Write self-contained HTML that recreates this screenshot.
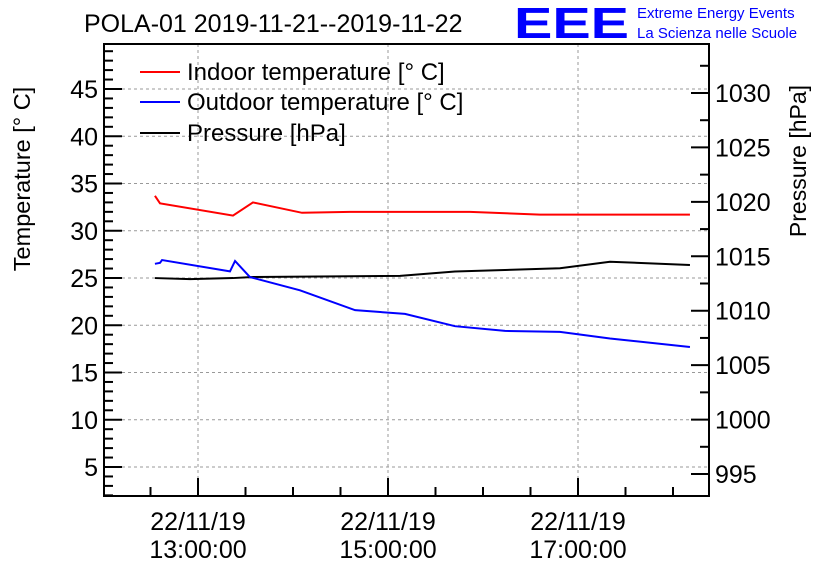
<!DOCTYPE html>
<html><head><meta charset="utf-8"><style>
body{margin:0;background:#fff;}
svg{font-family:"Liberation Sans",sans-serif;display:block}
</style></head><body>
<svg width="836" height="572" viewBox="0 0 836 572">
<text x="84" y="32" font-size="25">POLA-01 2019-11-21--2019-11-22</text>
<text x="514" y="38" font-size="44" fill="#0000ff" font-weight="bold" textLength="115" lengthAdjust="spacingAndGlyphs">EEE</text>
<text x="637" y="18" font-size="15" fill="#0000ff">Extreme Energy Events</text>
<text x="637" y="38" font-size="15" fill="#0000ff">La Scienza nelle Scuole</text>
<g id="grid"></g>
<g id="axes"></g>
<g id="series"></g>
<rect x="104" y="44" width="605" height="452" fill="none" stroke="#000" stroke-width="2"/>
<text transform="translate(30,179) rotate(-90)" font-size="23.5" text-anchor="middle">Temperature [° C]</text>
<text transform="translate(806,161) rotate(-90)" font-size="23" text-anchor="middle">Pressure [hPa]</text>
<g>
<line x1="140" y1="72" x2="180" y2="72" stroke="#f00" stroke-width="2"/>
<text x="187" y="80" font-size="24">Indoor temperature [° C]</text>
<line x1="140" y1="102" x2="180" y2="102" stroke="#00f" stroke-width="2"/>
<text x="187" y="110" font-size="24">Outdoor temperature [° C]</text>
<line x1="140" y1="133" x2="180" y2="133" stroke="#000" stroke-width="2"/>
<text x="187" y="141" font-size="24">Pressure [hPa]</text>
</g>
</svg>
<script>
// minutes after 12:00
const indoorT=[32.8,36,82.1,94.7,125.7,156,231.8,276,370.7];
const indoorV=[33.7,32.9,31.6,33.0,31.9,32.0,32.0,31.7,31.7];
const outdoorT=[32.8,36,37.3,80.2,83.4,92.8,124.4,159.2,190.7,222.3,253.9,288.6,320.2,370.7];
const outdoorV=[26.5,26.6,26.9,25.7,26.8,25.1,23.7,21.6,21.2,19.9,19.4,19.3,18.6,17.7];
const pressT=[32.8,55,82.1,94.7,187.6,222.3,288.6,320.2,370.7];
const pressV=[1013.0,1012.9,1013.0,1013.1,1013.2,1013.6,1013.9,1014.5,1014.2];
const tempTicks=[5,10,15,20,25,30,35,40,45];
const pressTicks=[995,1000,1005,1010,1015,1020,1025,1030];
const timeTicks=[60,180,300];
const timeLabels=["13:00:00","15:00:00","17:00:00"];
const NS="http://www.w3.org/2000/svg";
const L=104,R=709,T=44,B=496;
const xs=m=>198+(m-60)*95/60;
const ys=v=>514.25-v*9.45;
const yp=v=>93+(1030-v)*10.886;
function mk(tag,at,parent){const e=document.createElementNS(NS,tag);for(const k in at)e.setAttribute(k,at[k]);document.getElementById(parent).appendChild(e);return e;}
for(const v of tempTicks){
 const g=mk('line',{x1:L,x2:R,y1:ys(v),y2:ys(v),stroke:'#999','stroke-dasharray':'3,3','stroke-width':1},'grid');
 
 
 const t=mk('text',{x:L-6,y:ys(v)+9,'font-size':25,'text-anchor':'end'},'axes');
 t.textContent=v;
 
 
}
for(let v=2;v<=49;v++){
 const len=v%5===0?18:9;
 const l=mk('line',{x1:L,x2:L+len,y1:ys(v),y2:ys(v),stroke:'#000','stroke-width':2},'axes');
 
 
}
for(const v of pressTicks){
 const t=mk('text',{x:R+6,y:yp(v)+9,'font-size':25},'axes');
 t.textContent=v;
 
 
}
for(let v=992.5;v<=1032.5;v+=2.5){
 const y=yp(v); if(y<T||y>B)continue;
 const len=v%5===0?18:9;
 const l=mk('line',{x1:R-len,x2:R,y1:y,y2:y,stroke:'#000','stroke-width':2},'axes');
 
 
}
timeTicks.forEach((m,i)=>{
 const g=mk('line',{x1:xs(m),x2:xs(m),y1:T,y2:B,stroke:'#999','stroke-dasharray':'3,3','stroke-width':1},'grid');
 
 
 const t1=mk('text',{x:xs(m),y:530,'font-size':25,'text-anchor':'middle'},'axes');
 t1.textContent="22/11/19";
 
 
 const t2=mk('text',{x:xs(m),y:558,'font-size':25,'text-anchor':'middle'},'axes');
 t2.textContent=timeLabels[i];
 
 
});
for(let m=0;m<=420;m+=30){
 const x=xs(m); if(x<=L||x>=R)continue;
 const len=m%120===60?18:9;
 const l=mk('line',{x1:x,x2:x,y1:B-len,y2:B,stroke:'#000','stroke-width':2},'axes');
 
 
}
function series(ts,vs,f,col,name){
 const p=mk('polyline',{points:ts.map((t,i)=>xs(t)+','+f(vs[i])).join(' '),fill:'none',stroke:col,'stroke-width':2},'series');
 
 
}
series(pressT,pressV,yp,'#000','pressure-line');
series(outdoorT,outdoorV,ys,'#00f','outdoor-temperature-line');
series(indoorT,indoorV,ys,'#f00','indoor-temperature-line');
</script>
</body></html>
